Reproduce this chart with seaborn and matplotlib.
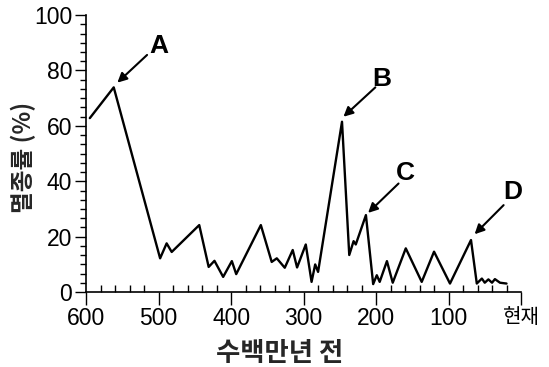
import numpy as np
import pandas as pd
import matplotlib
matplotlib.use("Agg")
import matplotlib.pyplot as plt
from matplotlib.ticker import MultipleLocator
import seaborn as sns

# 수백만년 전 / 멸종률 (%)
years = [595, 562, 498, 489, 482, 444, 431, 423, 411, 399, 393, 359, 344, 337,
         326, 315, 309, 297, 289, 284, 280, 247, 237, 231, 228, 214, 204, 199,
         195, 185, 177, 159, 137, 120, 98, 69, 61, 54, 50, 45, 40, 36, 29, 20]
rate = [62.8, 73.9, 12.2, 17.6, 14.5, 24.2, 9.1, 11.3, 5.5, 11.2, 6.5, 24.2, 10.9, 12.2,
        8.8, 15.2, 8.9, 17.2, 3.7, 10.0, 7.3, 61.5, 13.4, 18.4, 17.2, 27.8, 2.9, 6.1,
        3.7, 11.2, 3.4, 15.8, 3.7, 14.6, 3.1, 18.8, 3.1, 4.9, 3.4, 4.6, 3.4, 4.7, 3.4, 3.1]

xticks = [600, 500, 400, 300, 200, 100, 0]
xticklabels = ["600", "500", "400", "300", "200", "100", "현재"]
yticks = [0, 20, 40, 60, 80, 100]

# 주요 멸종 사건 표시 (글자 위치, 화살표 시작, 화살표 끝)
events = ["A", "B", "C", "D"]
label_pos = [(500, 89), (192, 77), (160, 43), (11, 36)]
arrow_tail = [(516, 85.6), (201, 73.9), (169, 39.2), (24, 31.4)]
arrow_head = [(557, 75.6), (245, 63.3), (211, 28.6), (64, 20.9)]

df = pd.DataFrame({"years": years, "rate": rate})

sns.set_theme(style="ticks")
plt.rcParams["font.family"] = ["Liberation Sans", "Noto Sans CJK KR", "DejaVu Sans"]

fig = plt.figure(figsize=(5.49, 3.67), dpi=100)
ax = fig.add_axes([0.157, 0.204, 0.792, 0.755])

sns.lineplot(data=df, x="years", y="rate", color="black", linewidth=1.7, ax=ax)

ax.set_xlim(600, 0)
ax.set_ylim(0, 100)
ax.set_xticks(xticks)
ax.set_xticklabels(xticklabels)
ax.set_yticks(yticks)
ax.xaxis.set_minor_locator(MultipleLocator(20))
ax.yaxis.set_minor_locator(MultipleLocator(20 / 6))

ax.tick_params(axis="both", which="major", labelsize=16.5, color="black",
               labelcolor="black", width=1.0)
ax.tick_params(axis="x", which="major", direction="out", length=9, pad=2)
ax.tick_params(axis="x", which="minor", direction="in", length=5, width=1.0, color="black")
ax.tick_params(axis="y", which="major", direction="out", length=8, pad=2)
ax.tick_params(axis="y", which="minor", direction="out", length=4, width=1.0, color="black")

for lab in ax.get_xticklabels():
    if lab.get_text() == "현재":
        lab.set_family(["Noto Sans CJK KR"])
        lab.set_fontsize(14.5)

sns.despine(ax=ax)
for sp in ["left", "bottom"]:
    ax.spines[sp].set_linewidth(1.2)
    ax.spines[sp].set_color("black")

ax.set_xlabel("수백만년 전", fontsize=19, fontweight="bold",
              family=["Noto Sans CJK KR"], va="center")
ax.set_ylabel("멸종률 (%)", fontsize=17, fontweight="bold",
              family=["Noto Sans CJK KR", "Liberation Sans"], va="center")
ax.xaxis.set_label_coords(0.446, -0.22)
ax.yaxis.set_label_coords(-0.145, 0.487)

for name, lp, tail, head in zip(events, label_pos, arrow_tail, arrow_head):
    ax.text(lp[0], lp[1], name, fontsize=19, fontweight="bold",
            ha="center", va="center", color="black")
    ax.annotate("", xy=head, xytext=tail,
                arrowprops=dict(arrowstyle="-|>", color="black", lw=1.5,
                                mutation_scale=14, shrinkA=0, shrinkB=0))

fig.savefig("out.png", dpi=100)
